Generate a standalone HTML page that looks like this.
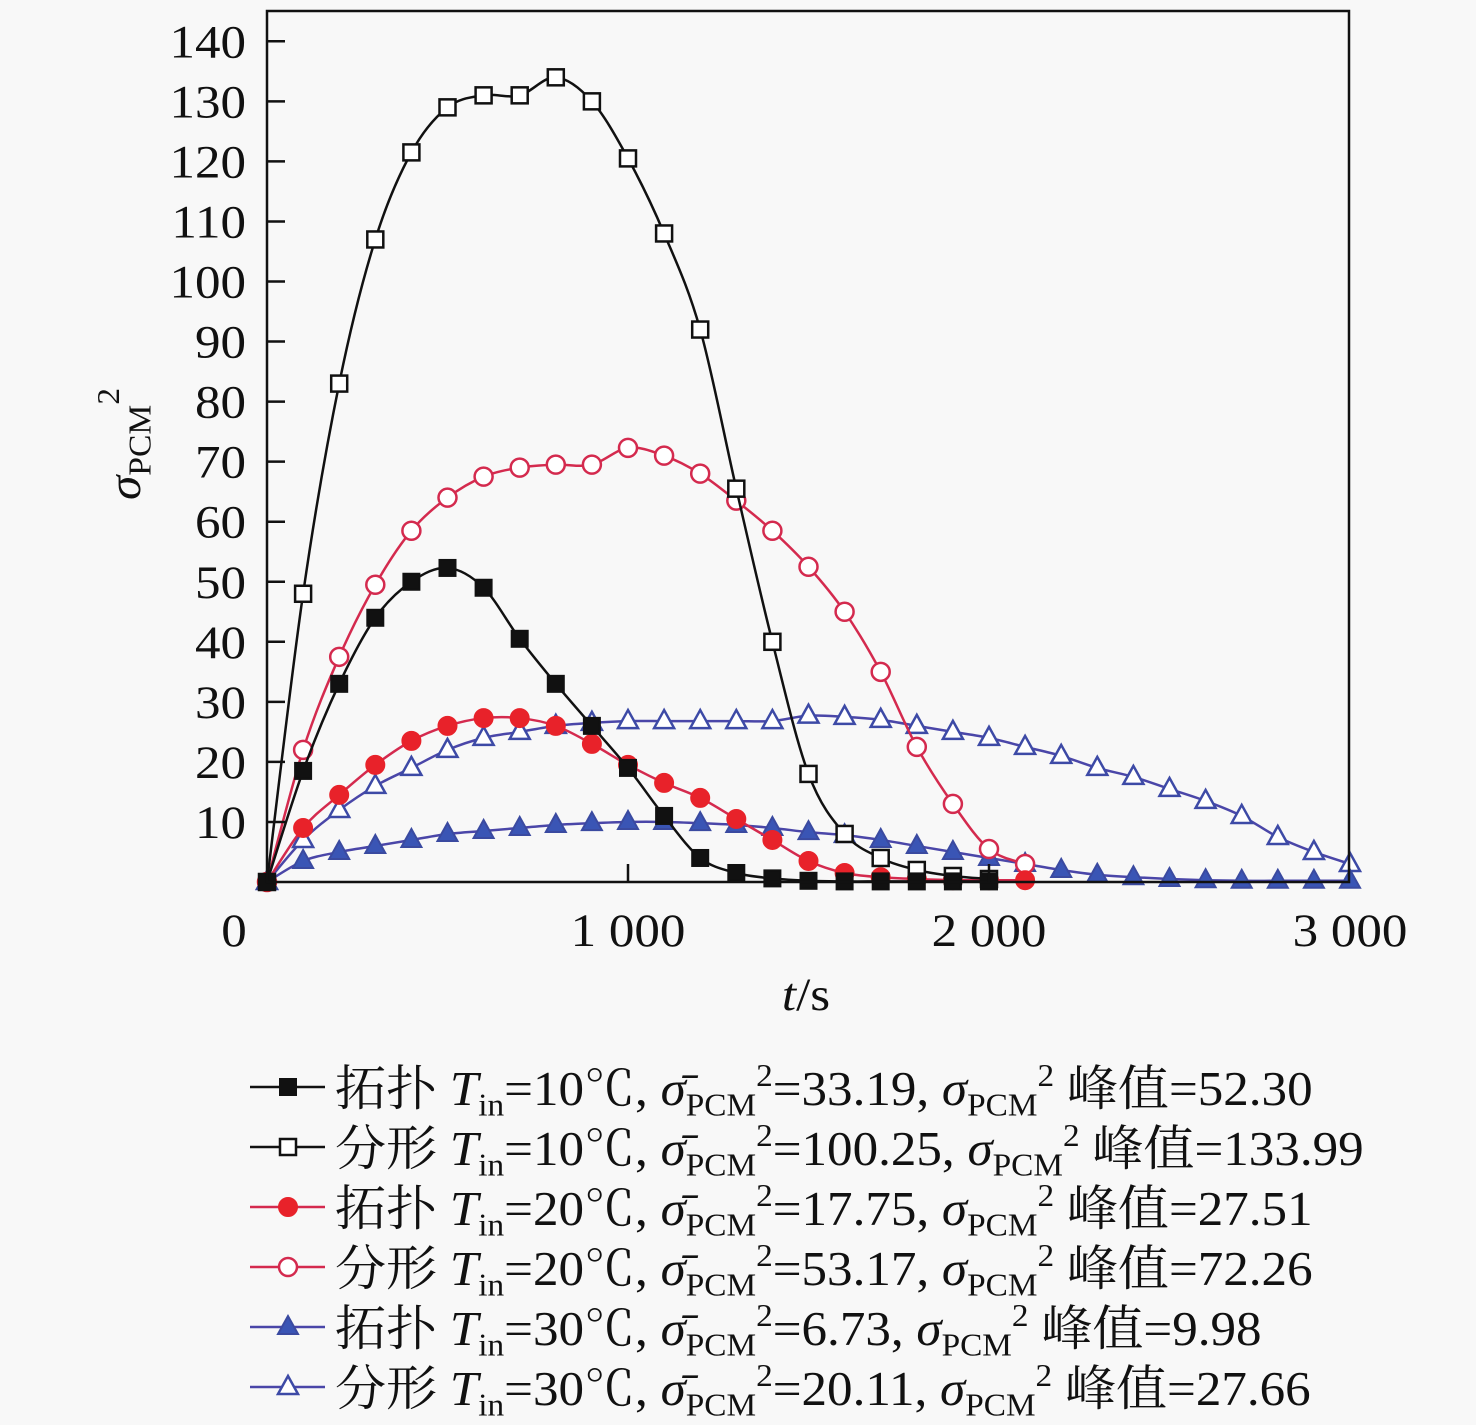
<!DOCTYPE html>
<html><head><meta charset="utf-8"><style>
html,body{margin:0;padding:0;background:#f8f8f8;}
svg{display:block;font-family:"Liberation Serif","Noto Serif CJK SC",serif;}
</style></head><body>
<svg id="chart" width="1476" height="1425" viewBox="0 0 1476 1425" xmlns="http://www.w3.org/2000/svg">
<rect width="1476" height="1425" fill="#f8f8f8"/>
<g id="plot"></g>
<g id="axes"></g>
<g id="legend"></g>
</svg>
<script>
const times = [0,100,200,300,400,500,600,700,800,900,1000,1100,1200,1300,1400,1500,1600,1700,1800,1900,2000,2100,2200,2300,2400,2500,2600,2700,2800,2900,3000];
const topo10 = [0,18.5,33,44,50,52.3,49,40.5,33,26,19,11,4,1.5,0.6,0.2,0.1,0.1,0.1,0.1,0.1];
const frac10 = [0,48,83,107,121.5,129,131,131,134,130,120.5,108,92,65.5,40,18,8,4,2,1,0.5];
const topo20 = [0,9,14.5,19.5,23.5,26,27.3,27.3,26,23,19.5,16.5,14,10.5,7,3.5,1.5,0.8,0.5,0.3,0.3,0.3];
const frac20 = [0,22,37.5,49.5,58.5,64,67.5,69,69.5,69.5,72.3,71,68,63.5,58.5,52.5,45,35,22.5,13,5.5,3];
const topo30 = [0,3.5,5,6,7,8,8.5,9,9.5,9.8,10,10,9.8,9.5,9,8.3,7.8,7,6,5,4,3,2,1.2,0.8,0.5,0.3,0.2,0.2,0.2,0.2];
const frac30 = [0,7,12,16,19,22,24,25,26,26.5,26.8,26.8,26.8,26.8,26.8,27.7,27.5,27,26,25,24,22.5,21,19,17.5,15.5,13.5,11,7.5,5,3];
const yTicks = [10,20,30,40,50,60,70,80,90,100,110,120,130,140];
const xTicks = [0,1000,2000,3000];
const xTickLabels = ["0","1 000","2 000","3 000"];
const legendNames = ["拓扑","分形","拓扑","分形","拓扑","分形"];
const legendTin = ["10","10","20","20","30","30"];
const legendMean = ["33.19","100.25","17.75","53.17","6.73","20.11"];
const legendPeak = ["52.30","133.99","27.51","72.26","9.98","27.66"];

const NS="http://www.w3.org/2000/svg";
const X0=267, XS=0.361, Y0=882, YS=6.005, TOP=11, RIGHT=1349;
const xs=t=>X0+t*XS, ys=v=>Y0-v*YS;
function mk(tag,attrs,parent){const e=document.createElementNS(NS,tag);for(const k in attrs)e.setAttribute(k,attrs[k]);parent.appendChild(e);return e;}
const plot=document.getElementById('plot'), axes=document.getElementById('axes'), legend=document.getElementById('legend');

const series=[
 {d:frac30,line:"#4a46a8",fill:"none",stroke:"#3d4aa6",m:"tri",name:"series-fractal-30"},
 {d:topo30,line:"#4a46a8",fill:"#3a55b5",stroke:"#3a4aa0",m:"tri",name:"series-topology-30"},
 {d:frac20,line:"#d42a4e",fill:"none",stroke:"#d42a4e",m:"circ",name:"series-fractal-20"},
 {d:topo20,line:"#d42a4e",fill:"#e8222a",stroke:"#e8222a",m:"circ",name:"series-topology-20"},
 {d:frac10,line:"#111",fill:"none",stroke:"#111",m:"sq",name:"series-fractal-10"},
 {d:topo10,line:"#111",fill:"#111",stroke:"#111",m:"sq",name:"series-topology-10"}
];
function smooth(pts){let s=`M${pts[0][0]},${pts[0][1]}`;for(let i=0;i<pts.length-1;i++){const p0=pts[i-1]||pts[i],p1=pts[i],p2=pts[i+1],p3=pts[i+2]||p2;const c1=[p1[0]+(p2[0]-p0[0])/6,p1[1]+(p2[1]-p0[1])/6],c2=[p2[0]-(p3[0]-p1[0])/6,p2[1]-(p3[1]-p1[1])/6];s+=`C${c1[0]},${c1[1]} ${c2[0]},${c2[1]} ${p2[0]},${p2[1]}`;}return s;}
function marker(type,x,y,fill,stroke,parent){
 const sw=fill==="none"?2.5:2; const f=fill==="none"?"#fff":fill;
 let el;
 if(type==="sq") el=mk('rect',{x:x-8,y:y-8,width:16,height:16,fill:f,stroke:stroke,'stroke-width':sw},parent);
 else if(type==="circ") el=mk('circle',{cx:x,cy:y,r:9,fill:f,stroke:stroke,'stroke-width':sw},parent);
 else el=mk('polygon',{points:`${x},${y-11} ${x-10},${y+7} ${x+10},${y+7}`,fill:f,stroke:stroke,'stroke-width':sw},parent);
 return el;
}
series.forEach(s=>{
 const g=mk('g',{},plot);
 
 
 const pts=s.d.map((v,i)=>[xs(times[i]),ys(v)]);
 const p=mk('path',{d:smooth(pts),fill:"none",stroke:s.line,'stroke-width':2.5},g);
 
 
 pts.forEach(pt=>{const m=marker(s.m,pt[0],pt[1],s.fill,s.stroke,g);
  
  });
});
const fr=mk('rect',{x:X0,y:TOP,width:RIGHT-X0,height:Y0-TOP,fill:"none",stroke:"#111",'stroke-width':2.5},axes);


yTicks.forEach(v=>{
 const l=mk('line',{x1:X0,x2:X0+18,y1:ys(v),y2:ys(v),stroke:"#111",'stroke-width':2.5},axes);
 
 
 const t=mk('text',{x:0,y:0,transform:`translate(246,${ys(v)+16}) scale(1.16,1.05)`,'text-anchor':'end','font-size':44,fill:'#111'},axes);
 t.textContent=v;
 
 
});
xTicks.forEach((v,i)=>{
 if(v>0&&v<3000){const l=mk('line',{x1:xs(v),x2:xs(v),y1:Y0,y2:Y0-18,stroke:"#111",'stroke-width':2.5},axes);
 
 }
 const t=mk('text',{x:0,y:0,transform:`translate(${v===0?234:xs(v)},946) scale(1.16,1.05)`,'text-anchor':'middle','font-size':44,fill:'#111'},axes);
 t.textContent=xTickLabels[i];
 
 
});
const xt=mk('text',{x:0,y:0,transform:'translate(806,1010) scale(1.16,1.05)','text-anchor':'middle','font-size':44,fill:'#111'},axes);
xt.innerHTML='<tspan font-style="italic">t</tspan>/s';


const yt=mk('text',{transform:'translate(140,500) rotate(-90) scale(1.12,1.05)','font-size':44,fill:'#111'},axes);
yt.innerHTML='<tspan font-style="italic">σ</tspan><tspan font-size="30" dy="10">PCM</tspan><tspan font-size="30" dy="-30">2</tspan>';


const order=[5,4,3,2,1,0];
order.forEach((si,i)=>{
 const s=series[si]; const y=1087+i*60;
 const g=mk('g',{},legend);
 
 
 mk('line',{x1:250,x2:325,y1:y,y2:y,stroke:s.line,'stroke-width':2.5},g);
 marker(s.m,288,y,s.fill,s.stroke,g);
 const t=mk('text',{x:0,y:0,transform:`translate(335,${y+18}) scale(1.11,1.05)`,'font-size':46,fill:'#111'},g);
 t.innerHTML=`${legendNames[i]} <tspan font-style="italic">T</tspan><tspan font-size="30" dy="10">in</tspan><tspan dy="-10">=${legendTin[i]}℃, </tspan><tspan font-style="italic">σ̄</tspan><tspan font-size="30" dy="10">PCM</tspan><tspan font-size="30" dy="-28">2</tspan><tspan dy="18">=${legendMean[i]}, </tspan><tspan font-style="italic">σ</tspan><tspan font-size="30" dy="10">PCM</tspan><tspan font-size="30" dy="-28">2</tspan><tspan dy="18"> 峰值=${legendPeak[i]}</tspan>`;
});
</script>
</body></html>
